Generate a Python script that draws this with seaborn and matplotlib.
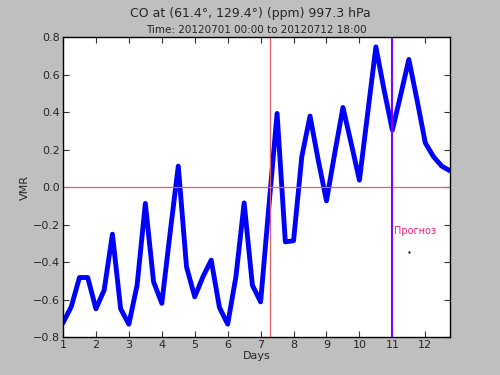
import matplotlib
matplotlib.use("Agg")
import matplotlib.pyplot as plt
import seaborn as sns
import pandas as pd
import numpy as np

days = [1.0, 1.25, 1.5, 1.75, 2.0, 2.25, 2.5, 2.75, 3.0, 3.25, 3.5, 3.75,
        4.0, 4.25, 4.5, 4.75, 5.0, 5.25, 5.5, 5.75, 6.0, 6.25, 6.5, 6.75,
        7.0, 7.25, 7.5, 7.75, 8.0, 8.25, 8.5, 8.75, 9.0, 9.25, 9.5, 9.75,
        10.0, 10.25, 10.5, 10.75, 11.0, 11.25, 11.5, 11.75, 12.0, 12.25, 12.5, 12.75]
vmr = [-0.724, -0.638, -0.482, -0.482, -0.649, -0.549, -0.251, -0.649, -0.731, -0.523, -0.087, -0.505,
       -0.620, -0.247, 0.112, -0.425, -0.585, -0.478, -0.389, -0.642, -0.731, -0.478, -0.084, -0.523,
       -0.612, -0.105, 0.393, -0.292, -0.286, 0.162, 0.379, 0.144, -0.073, 0.180, 0.425, 0.233,
       0.037, 0.393, 0.748, 0.517, 0.304, 0.490, 0.681, 0.464, 0.236, 0.162, 0.112, 0.087]

now_day = 7.27
forecast_day = 11.0
xticks = list(range(1, 13))
yticks = [-0.8, -0.6, -0.4, -0.2, 0.0, 0.2, 0.4, 0.6, 0.8]

title = "CO at (61.4°, 129.4°) (ppm) 997.3 hPa"
subtitle = "Time: 20120701 00:00 to 20120712 18:00"

sns.set_style("ticks")
plt.rcParams['font.family'] = ['DejaVu Sans']

df = pd.DataFrame({"Days": days, "VMR": vmr})

fig = plt.figure(figsize=(5, 3.75), dpi=100, facecolor="#bfbfbf")
ax = fig.add_axes([0.126, 0.101, 0.774, 0.8])
ax.set_facecolor("white")

sns.lineplot(data=df, x="Days", y="VMR", ax=ax, color="blue", linewidth=3.5)
ax.axhline(0, color="#e06060", linewidth=0.9)
ax.axvline(now_day, color="#e06060", linewidth=0.9)
ax.axvline(forecast_day, color="#7f00ff", linewidth=1.5)
ax.text(forecast_day + 0.05, -0.25, "Прогноз", color="#f0207a", fontsize=7)
ax.plot([11.5], [-0.345], marker=".", markersize=1.2, color="black")

ax.set_xlim(1, 12.75)
ax.set_ylim(-0.8, 0.8)
ax.set_xticks(xticks)
ax.set_yticks(yticks)
ax.set_yticklabels([f"{v:.1f}".replace("-", "\u2212") for v in yticks])
ax.tick_params(direction="in", top=True, right=True, labelsize=8, length=4, pad=2, color="#333333")
for s in ax.spines.values():
    s.set_color("black")
    s.set_linewidth(1.0)
ax.set_xlabel("Days", fontsize=8, labelpad=1)
ax.set_ylabel("VMR", fontsize=8, labelpad=2)
fig.suptitle(title, fontsize=9, y=0.982)
ax.set_title(subtitle, fontsize=7.5, pad=3)

fig.savefig("out.png", dpi=100, facecolor=fig.get_facecolor())
